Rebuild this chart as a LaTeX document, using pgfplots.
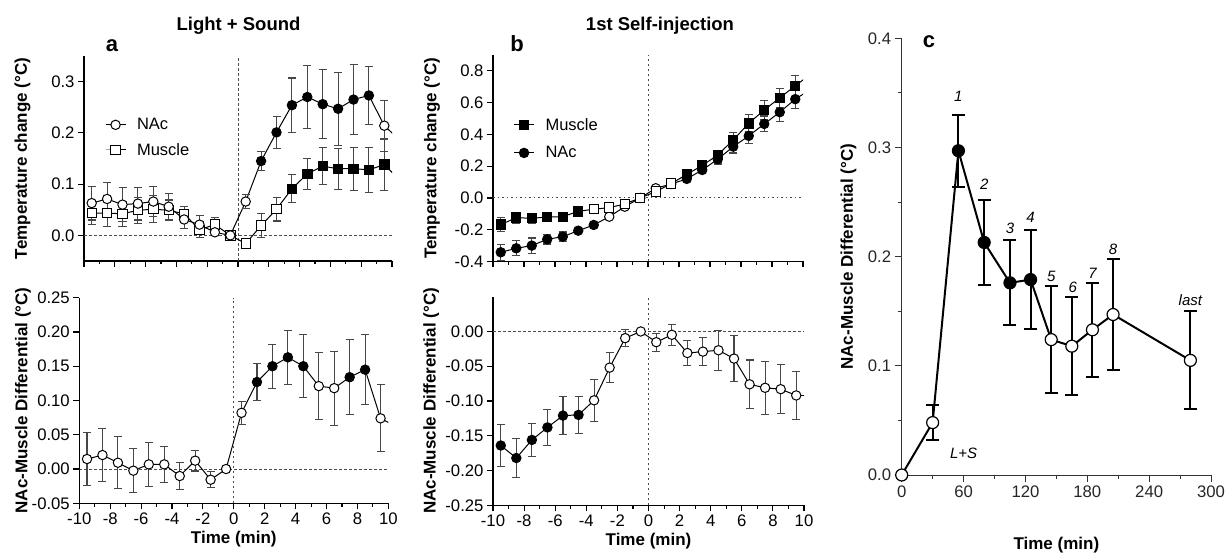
\documentclass[border=0pt]{standalone}
\usepackage{pgfplots}
\pgfplotsset{compat=1.18}
\usepackage{pgfplotstable}
\usepackage{fontspec}
\setmainfont{Liberation Sans}

\pgfplotstableread{
x y e f
-9.5 0.063 0.033 o
-8.5 0.071 0.033 o
-7.5 0.060 0.033 o
-6.5 0.062 0.032 o
-5.5 0.066 0.030 o
-4.5 0.056 0.025 o
-3.5 0.031 0.018 o
-2.5 0.021 0.017 o
-1.5 0.006 0.005 o
-0.5 0.000 0.000 o
0.5 0.066 0.013 o
1.5 0.145 0.018 c
2.5 0.201 0.031 c
3.5 0.254 0.053 c
4.5 0.270 0.062 c
5.5 0.256 0.067 c
6.5 0.247 0.071 c
7.5 0.265 0.069 c
8.5 0.273 0.056 c
9.5 0.214 0.050 o
}\aNAc

\pgfplotstableread{
x y e f
-9.5 0.0435 0.022 o
-8.5 0.0435 0.026 o
-7.5 0.042 0.024 o
-6.5 0.049 0.025 o
-5.5 0.051 0.026 o
-4.5 0.049 0.020 o
-3.5 0.042 0.014 o
-2.5 0.011 0.015 o
-1.5 0.021 0.013 o
-0.5 0.000 0.000 o
0.5 -0.016 0.008 o
1.5 0.019 0.023 o
2.5 0.051 0.023 o
3.5 0.091 0.027 c
4.5 0.120 0.030 c
5.5 0.135 0.036 c
6.5 0.130 0.040 c
7.5 0.130 0.042 c
8.5 0.128 0.044 c
9.5 0.138 0.050 c
}\aMus

\pgfplotstableread{
x y e f
-9.5 0.0146 0.039 o
-8.5 0.0204 0.039 o
-7.5 0.0092 0.038 o
-6.5 -0.0024 0.032 o
-5.5 0.0068 0.032 o
-4.5 0.0068 0.026 o
-3.5 -0.0102 0.020 o
-2.5 0.0122 0.015 o
-1.5 -0.0156 0.012 o
-0.5 0.000 0.000 o
0.5 0.082 0.017 o
1.5 0.127 0.027 c
2.5 0.150 0.032 c
3.5 0.163 0.039 c
4.5 0.150 0.046 c
5.5 0.121 0.049 o
6.5 0.118 0.054 o
7.5 0.134 0.055 c
8.5 0.145 0.051 c
9.5 0.074 0.049 o
}\aDif

\pgfplotstableread{
x y e f
-9.5 -0.168 0.043 c
-8.5 -0.124 0.035 c
-7.5 -0.128 0.030 c
-6.5 -0.120 0.030 c
-5.5 -0.118 0.022 c
-4.5 -0.084 0.012 c
-3.5 -0.071 0.008 o
-2.5 -0.061 0.008 o
-1.5 -0.038 0.006 o
-0.5 0.000 0.000 o
0.5 0.040 0.008 o
1.5 0.090 0.010 o
2.5 0.149 0.015 c
3.5 0.204 0.020 c
4.5 0.271 0.030 c
5.5 0.365 0.045 c
6.5 0.470 0.055 c
7.5 0.554 0.058 c
8.5 0.630 0.060 c
9.5 0.706 0.065 c
}\bMus

\pgfplotstableread{
x y e f
-9.5 -0.342 0.050 c
-8.5 -0.317 0.048 c
-7.5 -0.300 0.048 c
-6.5 -0.260 0.030 c
-5.5 -0.244 0.030 c
-4.5 -0.206 0.012 c
-3.5 -0.170 0.010 c
-2.5 -0.118 0.008 o
-1.5 -0.055 0.006 o
-0.5 0.000 0.000 o
0.5 0.061 0.008 o
1.5 0.088 0.010 o
2.5 0.120 0.012 c
3.5 0.176 0.015 c
4.5 0.244 0.030 c
5.5 0.323 0.040 c
6.5 0.391 0.050 c
7.5 0.466 0.050 c
8.5 0.540 0.060 c
9.5 0.622 0.060 c
}\bNAc

\pgfplotstableread{
x y e f
-9.5 -0.164 0.030 c
-8.5 -0.182 0.028 c
-7.5 -0.156 0.024 c
-6.5 -0.138 0.026 c
-5.5 -0.121 0.027 c
-4.5 -0.120 0.027 c
-3.5 -0.099 0.030 o
-2.5 -0.052 0.022 o
-1.5 -0.0096 0.012 o
-0.5 0.000 0.000 o
0.5 -0.0154 0.013 o
1.5 -0.0048 0.015 o
2.5 -0.031 0.018 o
3.5 -0.029 0.020 o
4.5 -0.027 0.029 o
5.5 -0.039 0.033 o
6.5 -0.076 0.035 o
7.5 -0.081 0.038 o
8.5 -0.083 0.035 o
9.5 -0.092 0.034 o
}\bDif

\pgfplotstableread{
x y e f
0 0.000 0.000 o
30 0.048 0.016 o
55 0.297 0.033 c
80 0.213 0.039 c
105 0.176 0.039 c
125 0.179 0.045 c
145 0.124 0.049 o
165 0.118 0.045 o
185 0.133 0.043 o
205 0.147 0.051 o
280 0.105 0.045 o
}\cDif

\pgfplotsset{
  prism/.style={
    scale only axis, axis x line*=bottom, axis y line*=left,
    axis line style={line width=1.2pt, black},
    tick align=outside, tick style={line width=1.1pt, black},
    major tick length=6pt, minor tick length=3.5pt,
    ticklabel style={font=\fontsize{16.7}{18}\selectfont},
    label style={font=\bfseries\fontsize{17}{19}\selectfont},
    xmin=-10, xmax=10,
    xtick={-10,-8,...,10}, minor xtick={-9,-7,...,9},
    legend cell align=left,
    legend image code/.code={\draw[mark repeat=2,mark phase=2,##1] plot coordinates {(0pt,0pt) (10pt,0pt) (20pt,0pt)};},
  },
  ebar/.style={black, line width=1pt, mark=none, forget plot,
    error bars/.cd, y dir=both, y explicit,
    error bar style={line width=1.1pt, black!72},
    error mark options={rotate=90, line width=1.1pt, black!72, mark size=4pt}},
  mk/.style={only marks, forget plot, scatter, scatter src=explicit symbolic,
    scatter/classes={o={fill=white, draw=black}, c={fill=black, draw=black}},
    mark options={line width=1pt}, mark size=4.7pt},
  refl/.style={black!70, line width=1pt, dash pattern=on 2.5pt off 2.5pt, forget plot},
}

\begin{document}
\begin{tikzpicture}
\useasboundingbox (0pt,0pt) rectangle (1225pt,554pt);

% ---------- panel a top
\begin{axis}[prism, at={(84pt,293pt)}, anchor=south west, width=308pt, height=205pt,
  ymin=-0.05, ymax=0.35, ytick={0,0.1,0.2,0.3}, yticklabels={0.0,0.1,0.2,0.3},
  xticklabels={},
  ylabel={Temperature change (°C)},
  ylabel style={at={(axis description cs:-0.20,0.5)}, anchor=center},
  legend style={at={(rel axis cs:0.058,0.716)}, anchor=north west, draw=none, fill=none,
    font=\fontsize{16.5}{19}\selectfont, row sep=8pt}]
\addplot[refl] coordinates {(-10,0) (10,0)};
\addplot[refl] coordinates {(0,-0.05) (0,0.35)};
\addplot[ebar] table[x=x,y=y,y error=e] {\aMus};
\addplot[black, line width=1pt, forget plot] coordinates {(9.5,0.138) (10.5,0.108)};
\addplot[mk, mark=square*] table[x=x,y=y,meta=f] {\aMus};
\addplot[ebar] table[x=x,y=y,y error=e] {\aNAc};
\addplot[black, line width=1pt, forget plot] coordinates {(9.5,0.214) (10.5,0.186)};
\addplot[mk, mark=*] table[x=x,y=y,meta=f] {\aNAc};
\addlegendimage{black, line width=1pt, mark=*, mark options={fill=white, line width=1pt}, mark size=4.7pt}
\addlegendentry{\hspace{9pt}NAc}
\addlegendimage{black, line width=1pt, mark=square*, mark options={fill=white, line width=1pt}, mark size=4.7pt}
\addlegendentry{\hspace{9pt}Muscle}
\end{axis}

% ---------- panel a bottom
\begin{axis}[prism, at={(79.3pt,50.7pt)}, anchor=south west, width=309pt, height=205.6pt,
  ymin=-0.05, ymax=0.25, ytick={-0.05,0,0.05,0.1,0.15,0.2,0.25},
  yticklabels={-0.05,0.00,0.05,0.10,0.15,0.20,0.25},
  xticklabels={-10,-8,-6,-4,-2,0,2,4,6,8,10},
  xlabel={Time (min)}, ylabel={NAc-Muscle Differential (°C)},
  ylabel style={at={(axis description cs:-0.182,0.5)}, anchor=center}]
\addplot[refl] coordinates {(-10,0) (10,0)};
\addplot[refl] coordinates {(0,-0.05) (0,0.25)};
\addplot[ebar] table[x=x,y=y,y error=e] {\aDif};
\addplot[black, line width=1pt, forget plot] coordinates {(9.5,0.074) (10.5,0.062)};
\addplot[mk, mark=*] table[x=x,y=y,meta=f] {\aDif};
\end{axis}

% ---------- panel b top
\begin{axis}[prism, at={(493pt,292.5pt)}, anchor=south west, width=310pt, height=206.5pt,
  ymin=-0.4, ymax=0.9, ytick={-0.4,-0.2,0,0.2,0.4,0.6,0.8},
  yticklabels={-0.4,-0.2,0.0,0.2,0.4,0.6,0.8},
  xticklabels={},
  ylabel={Temperature change (°C)},
  ylabel style={at={(axis description cs:-0.197,0.5)}, anchor=center},
  legend style={at={(rel axis cs:0.056,0.715)}, anchor=north west, draw=none, fill=none,
    font=\fontsize{16.5}{19}\selectfont, row sep=11pt}]
\addplot[refl, dash pattern=on 1.5pt off 3pt] coordinates {(-10,0) (10,0)};
\addplot[refl] coordinates {(0,-0.4) (0,0.9)};
\addplot[ebar] table[x=x,y=y,y error=e] {\bNAc};
\addplot[black, line width=1pt, forget plot] coordinates {(9.5,0.622) (10.5,0.684)};
\addplot[mk, mark=*] table[x=x,y=y,meta=f] {\bNAc};
\addplot[ebar] table[x=x,y=y,y error=e] {\bMus};
\addplot[black, line width=1pt, forget plot] coordinates {(9.5,0.706) (10.5,0.780)};
\addplot[mk, mark=square*] table[x=x,y=y,meta=f] {\bMus};
\addlegendimage{black, line width=1pt, mark=square*, mark options={fill=black}, mark size=4.7pt}
\addlegendentry{\hspace{9pt}Muscle}
\addlegendimage{black, line width=1pt, mark=*, mark options={fill=black}, mark size=4.7pt}
\addlegendentry{\hspace{9pt}NAc}
\end{axis}

% ---------- panel b bottom
\begin{axis}[prism, at={(493pt,48.7pt)}, anchor=south west, width=311pt, height=208.6pt,
  ymin=-0.25, ymax=0.05, ytick={-0.25,-0.2,-0.15,-0.1,-0.05,0},
  yticklabels={-0.25,-0.20,-0.15,-0.10,-0.05,0.00},
  xticklabels={-10,-8,-6,-4,-2,0,2,4,6,8,10},
  xlabel={Time (min)}, ylabel={NAc-Muscle Differential (°C)},
  ylabel style={at={(axis description cs:-0.199,0.5)}, anchor=center}]
\addplot[refl] coordinates {(-10,0) (10,0)};
\addplot[refl] coordinates {(0,-0.25) (0,0.05)};
\addplot[ebar] table[x=x,y=y,y error=e] {\bDif};
\addplot[black, line width=1pt, forget plot] coordinates {(9.5,-0.092) (10.5,-0.092)};
\addplot[mk, mark=*] table[x=x,y=y,meta=f] {\bDif};
\end{axis}

% ---------- panel c
\begin{axis}[prism, at={(901.7pt,79pt)}, anchor=south west, width=309.3pt, height=436.7pt,
  clip=false,
  axis line style={line width=1pt, black!80},
  tick style={line width=1pt, black!80}, major tick length=7pt, minor tick length=4pt,
  ticklabel style={font=\fontsize{16.7}{18}\selectfont, black!85},
  xmin=0, xmax=300, xtick={0,60,...,300}, minor xtick={30,90,...,270},
  xticklabels={0,60,120,180,240,300},
  ymin=0, ymax=0.4, ytick={0,0.1,0.2,0.3,0.4}, minor ytick={0.05,0.15,0.25,0.35},
  yticklabels={0.0,0.1,0.2,0.3,0.4},
  xlabel={Time (min)}, ylabel={NAc-Muscle Differential (°C)},
  xlabel style={at={(axis description cs:0.5,-0.16)}, anchor=center},
  ylabel style={at={(axis description cs:-0.172,0.5)}, anchor=center}]
\addplot[black, line width=2pt, mark=none,
  error bars/.cd, y dir=both, y explicit,
  error bar style={line width=2pt, black},
  error mark options={rotate=90, line width=2pt, black, mark size=6.5pt}] table[x=x,y=y,y error=e] {\cDif};
\addplot[mk, mark=*, mark size=6pt, mark options={line width=1.2pt}] table[x=x,y=y,meta=f] {\cDif};
\begin{scope}[font=\itshape\fontsize{15}{17}\selectfont]
\node at (axis cs:55,0.3466) {1};
\node at (axis cs:80,0.266) {2};
\node at (axis cs:105,0.226) {3};
\node at (axis cs:125,0.236) {4};
\node at (axis cs:145,0.182) {5};
\node at (axis cs:166,0.172) {6};
\node at (axis cs:185,0.185) {7};
\node at (axis cs:205,0.207) {8};
\node at (axis cs:280,0.160) {last};
\node at (axis cs:60,0.020) {L+S};
\end{scope}
\end{axis}

% titles and panel letters
\node[font=\bfseries\fontsize{18.5}{20}\selectfont, anchor=base] at (238.5pt,523pt) {Light + Sound};
\node[font=\bfseries\fontsize{18.5}{20}\selectfont, anchor=base] at (660pt,523pt) {1st Self-injection};
\node[font=\bfseries\fontsize{22}{24}\selectfont, anchor=base] at (112pt,502pt) {a};
\node[font=\bfseries\fontsize{22}{24}\selectfont, anchor=base] at (517pt,502pt) {b};
\node[font=\bfseries\fontsize{22}{24}\selectfont, anchor=base] at (929pt,506pt) {c};
\end{tikzpicture}
\end{document}
